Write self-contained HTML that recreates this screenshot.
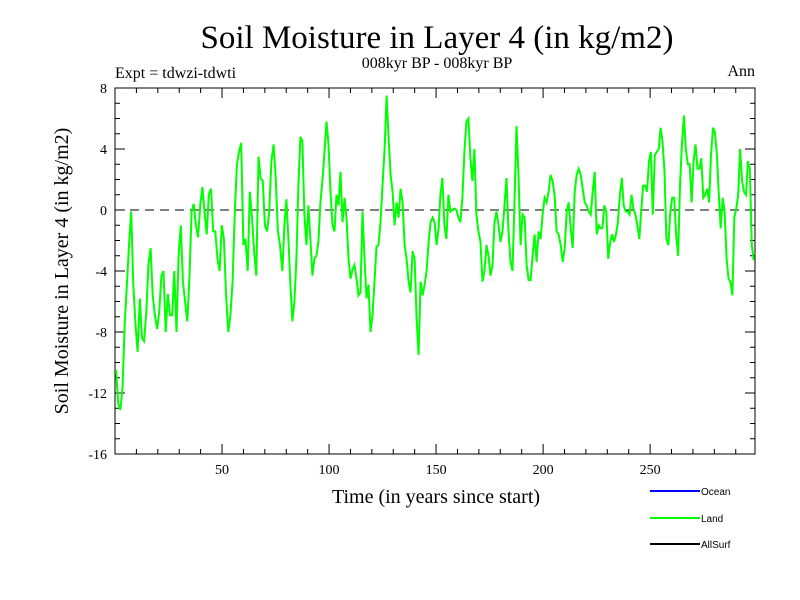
<!DOCTYPE html>
<html><head><meta charset="utf-8"><style>
body{margin:0;background:#fff}
svg{display:block}
.s{font-family:"Liberation Serif",serif;fill:#000}
.l{font-family:"Liberation Sans",sans-serif;font-size:10px;fill:#000}
</style></head><body>
<svg id="chart" width="800" height="600">
<text class="s" x="437" y="48" font-size="33" text-anchor="middle">Soil Moisture in Layer 4 (in kg/m2)</text>
<text class="s" x="437" y="68" font-size="16" text-anchor="middle">008kyr BP - 008kyr BP</text>
<text class="s" x="115" y="78" font-size="16">Expt = tdwzi-tdwti</text>
<text class="s" x="755" y="76" font-size="16" text-anchor="end">Ann</text>
<text class="s" x="0" y="0" font-size="20" text-anchor="middle" transform="translate(68,271) rotate(-90)">Soil Moisture in Layer 4 (in kg/m2)</text>
<text class="s" x="436" y="503" font-size="20" text-anchor="middle">Time (in years since start)</text>
<g id="axes"></g>
<g id="series"></g>
<g>
<line x1="650" y1="491" x2="700" y2="491" stroke="#0000ff" stroke-width="2"/>
<text class="l" x="701" y="495">Ocean</text>
<line x1="650" y1="518" x2="700" y2="518" stroke="#00ff00" stroke-width="2"/>
<text class="l" x="701" y="522">Land</text>
<line x1="650" y1="544" x2="700" y2="544" stroke="#000" stroke-width="2"/>
<text class="l" x="701" y="548">AllSurf</text>
</g>
</svg>
<script>
const yTicks=[-16,-12,-8,-4,0,4,8];
const xTicks=[50,100,150,200,250];
const segStartYears=[0.5,78.2,152.0,226.8];
const segEndYears=[77.1,151.2,226.0,298.4];
const landSeg1=[-10.5,-12.7,-13.1,-11.7,-7.5,-4.9,-2.3,-0.1,-4.9,-7.5,-9.3,-5.8,-8.4,-8.6,-6.7,-3.6,-2.5,-5.6,-6.9,-7.8,-6.7,-4.3,-4.0,-8.0,-5.5,-6.9,-6.9,-4.0,-8.0,-3.0,-1.0,-4.7,-6.0,-7.3,-4.5,-0.1,0.4,-1.0,-1.8,0.3,1.5,-0.1,-1.6,1.0,1.4,-1.4,-1.4,-3.2,-4.0,-1.0,-1.9,-5.6,-8.0,-6.9,-4.7,-0.3,3.0,3.8,4.4,-2.3,-1.9,-4.0,1.2,-0.5,-2.7,-4.3,3.5,2.1,1.9,-1.0,-1.4,-0.1,3.2,4.3,2.1,-1.4,-2.3];
const landSeg2=[-4.0,-1.0,0.7,-1.9,-4.9,-7.3,-6.0,-3.2,1.6,4.8,4.5,-0.3,-2.3,0.3,-1.9,-4.3,-3.2,-3.0,-2.1,0.5,1.9,3.8,5.8,4.3,1.2,-1.0,-1.4,1.0,0.3,2.5,-0.8,0.8,-0.5,-3.2,-4.5,-3.9,-3.6,-4.5,-5.6,-5.4,-0.1,-3.2,-5.8,-4.9,-8.0,-6.9,-4.7,-2.4,-2.3,-0.8,1.6,4.0,7.5,4.7,2.3,1.2,-1.0,0.5,-0.5,1.4,0.5,-2.3,-3.2,-4.7,-5.4,-2.7,-3.2,-7.1,-9.5,-4.7,-5.6,-4.9,-4.0,-2.1,-0.8,-0.5,-0.8,-2.3,-1.2];
const landSeg3=[1.0,2.1,-1.0,-1.9,1.0,-0.1,0,0.1,0,-0.5,-0.8,0.8,3.8,5.8,6.0,3.4,1.9,4.0,-0.3,-1.4,-2.1,-4.7,-4.0,-2.3,-3.0,-4.3,-3.6,-0.8,-0.1,-1.0,-2.1,-1.4,0.3,2.1,-1.4,-3.4,-4.0,0.5,5.5,2.3,-2.3,-0.3,-0.5,-3.6,-4.6,-4.6,-3.0,-1.6,-3.4,-1.4,-1.9,-0.3,0.8,0.5,1.2,2.3,1.9,1.0,-1.4,-1.6,-2.3,-3.4,-2.5,-0.1,0.5,-1.2,-2.5,1.2,2.3,2.7,2.3,1.4,0.5,0.3,-0.1,-0.3,1.2,2.5,-1.6,-1.0];
const landSeg4=[-1.2,-1.2,0.3,-0.1,-3.2,-2.1,-1.6,-2.1,-1.6,-0.8,1.0,2.1,0.3,-0.1,-0.1,-0.3,1.0,0.1,-0.3,-1.0,-1.9,-0.1,1.6,1.6,1.2,3.2,3.8,-0.3,3.6,3.8,4.0,5.4,4.5,2.5,-1.9,-2.3,-0.1,0.8,0.8,-1.6,-3.0,1.6,4.3,6.2,4.0,3.0,3.0,0.5,3.2,4.3,2.7,2.7,3.4,0.8,1.0,1.4,0.5,3.6,5.4,5.1,3.6,1.0,-1.2,0.8,-0.1,-3.2,-4.5,-4.7,-5.6,-0.5,0.1,1.0,4.0,1.9,1.2,1.0,3.2,2.7,-2.3,-3.3];
const X0=115,X1=755,Y0=88,Y1=454,XMIN=0,XMAX=299,YMIN=-16,YMAX=8;
const xs=v=>X0+(v-XMIN)/(XMAX-XMIN)*(X1-X0);
const ys=v=>Y1-(v-YMIN)/(YMAX-YMIN)*(Y1-Y0);
const NS='http://www.w3.org/2000/svg';
const ax=document.getElementById('axes');
function mk(t,a,p){const e=document.createElementNS(NS,t);for(const k in a)e.setAttribute(k,a[k]);p.appendChild(e);return e;}
const fr=mk('rect',{x:X0,y:Y0,width:X1-X0,height:Y1-Y0,fill:'none',stroke:'#000','stroke-width':1},ax);


for(let v=YMIN;v<=YMAX;v++){const y=ys(v),L=(v%4===0)?10:5;
mk('line',{x1:X0,y1:y,x2:X0+L,y2:y,stroke:'#000'},ax);mk('line',{x1:X1,y1:y,x2:X1-L,y2:y,stroke:'#000'},ax);}
for(let v=10;v<XMAX;v+=10){const x=xs(v),L=(v%50===0)?10:5;
mk('line',{x1:x,y1:Y0,x2:x,y2:Y0+L,stroke:'#000'},ax);mk('line',{x1:x,y1:Y1,x2:x,y2:Y1-L,stroke:'#000'},ax);}
yTicks.forEach(v=>{const t=mk('text',{x:X0-8,y:ys(v)+5,'text-anchor':'end','font-size':14,class:'s'},ax);t.textContent=v;

});
xTicks.forEach(v=>{const t=mk('text',{x:xs(v),y:Y1+20,'text-anchor':'middle','font-size':14,class:'s'},ax);t.textContent=v;

});
const zl=mk('line',{x1:X0,y1:ys(0),x2:X1,y2:ys(0),stroke:'#000','stroke-dasharray':'9,6'},ax);


const segs=[landSeg1,landSeg2,landSeg3,landSeg4];
const pts=[];
segs.forEach((arr,s)=>{const n=arr.length;arr.forEach((v,i)=>{const yr=segStartYears[s]+i*(segEndYears[s]-segStartYears[s])/(n-1);pts.push(xs(yr).toFixed(1)+','+ys(v).toFixed(1));});});
const pl=mk('polyline',{points:pts.join(' '),fill:'none',stroke:'#00ff00','stroke-width':2,'stroke-linejoin':'miter'},document.getElementById('series'));


</script>
</body></html>
